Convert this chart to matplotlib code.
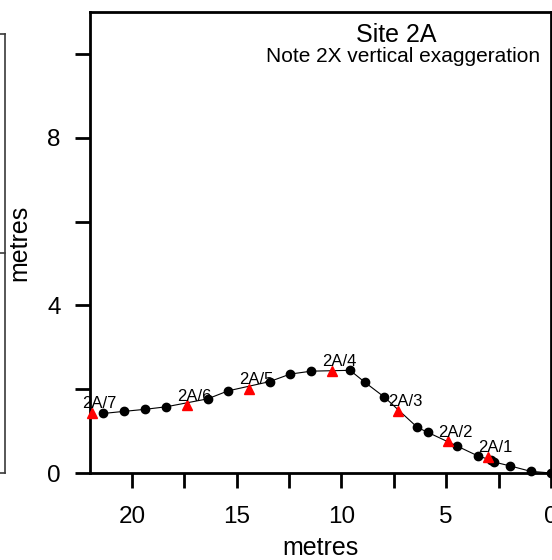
import numpy as np
import matplotlib
matplotlib.use('Agg')
import matplotlib.pyplot as plt
from matplotlib.lines import Line2D

plt.rcParams['font.family'] = ['Liberation Sans', 'DejaVu Sans']

# profile survey points (distance along transect, height)
dist = [21.38, 20.39, 19.36, 18.36, 16.38, 15.41, 13.43, 12.45, 11.44, 9.59, 8.87,
        7.95, 6.38, 5.88, 4.47, 3.50, 2.88, 2.70, 1.96, 0.97, 0.0]
height = [1.42, 1.47, 1.52, 1.58, 1.77, 1.96, 2.18, 2.36, 2.43, 2.45, 2.16,
          1.81, 1.09, 0.97, 0.64, 0.41, 0.31, 0.26, 0.17, 0.04, 0.0]

# sample locations
samp_names = ['2A/7', '2A/6', '2A/5', '2A/4', '2A/3', '2A/2', '2A/1']
samp_dist = [21.9, 17.37, 14.40, 10.45, 7.28, 4.91, 2.99]
samp_height = [1.44, 1.62, 2.01, 2.44, 1.48, 0.76, 0.39]

xticks = np.arange(0, 22.5, 2.5)
xticklabels = ['0' if t == 0 else ('%d' % t if t % 5 == 0 else '') for t in xticks]
yticks = np.arange(0, 12, 2)
yticklabels = ['%d' % t if t % 4 == 0 else '' for t in yticks]

fig = plt.figure(figsize=(5.52, 5.60), dpi=100)
ax = fig.add_axes([90 / 552, 87 / 560, 461 / 552, 461 / 560])

ax.plot(dist, height, color='black', linewidth=0.8, zorder=2)
ax.plot(dist, height, 'o', color='black', markersize=6, zorder=3, clip_on=False)
ax.plot(samp_dist, samp_height, '^', color='red', markersize=6.5, zorder=4, clip_on=False)

for name, x, y in zip(samp_names, samp_dist, samp_height):
    ax.annotate(name, (x, y), xytext=(5, 6.5), textcoords='offset points',
                ha='center', va='center', fontsize=12, zorder=5)

ax.set_xlim(22, 0)
ax.set_ylim(0, 11)
ax.set_xticks(xticks)
ax.set_xticklabels(xticklabels)
ax.set_yticks(yticks)
ax.set_yticklabels(yticklabels)
ax.tick_params(axis='both', direction='out', length=11, width=2, labelsize=17.5)
ax.tick_params(axis='x', pad=13)
ax.tick_params(axis='y', pad=10)
for sp in ax.spines.values():
    sp.set_linewidth(2)

ax.set_xlabel('metres', fontsize=18)
ax.xaxis.label.set_va('center')
ax.xaxis.set_label_coords(0.5, -0.163)
ax.set_ylabel('metres', fontsize=18)
ax.yaxis.label.set_va('center')
ax.yaxis.set_label_coords(-0.154, 0.5)

ax.text(7.39, 10.46, 'Site 2A', fontsize=18, ha='center', va='center')
ax.text(7.06, 9.93, 'Note 2X vertical exaggeration', fontsize=15, ha='center', va='center')

# edge of the neighbouring panel
c = '#3a3a3a'
for xs, ys in [([0, 5], [34, 34]), ([5, 5], [34, 473]), ([0, 5], [473, 473]), ([0, 5], [253, 253])]:
    fig.add_artist(Line2D([v / 552 for v in xs], [1 - v / 560 for v in ys],
                          color=c, linewidth=1.2, transform=fig.transFigure))

fig.savefig('out.png', dpi=100)
